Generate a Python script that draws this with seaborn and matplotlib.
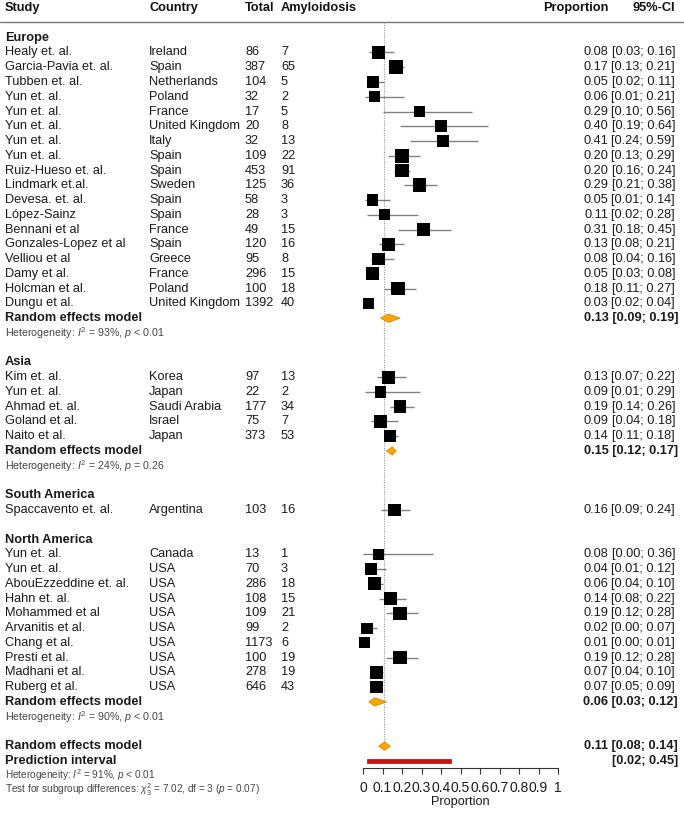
import matplotlib
matplotlib.use("Agg")
import matplotlib.pyplot as plt
import matplotlib.transforms as mtransforms
import numpy as np
import pandas as pd
import seaborn as sns

sns.set_style("white")
plt.rcParams["font.family"] = ["Liberation Sans", "DejaVu Sans"]
plt.rcParams["mathtext.fontset"] = "custom"
plt.rcParams["mathtext.rm"] = "Liberation Sans"
plt.rcParams["mathtext.it"] = "Liberation Sans:italic"

# ---- data ----
regions = ["Europe"] * 18 + ["Asia"] * 5 + ["South America"] + ["North America"] * 10
studies = ["Healy et. al.", "Garcia-Pavia et. al.", "Tubben et. al.", "Yun et. al.", "Yun et. al.",
           "Yun et. al.", "Yun et. al.", "Yun et. al.", "Ruiz-Hueso et. al.", "Lindmark et.al.",
           "Devesa. et. al.", "López-Sainz", "Bennani et al", "Gonzales-Lopez et al", "Velliou et al",
           "Damy et al.", "Holcman et al.", "Dungu et al.",
           "Kim et. al.", "Yun et. al.", "Ahmad et. al.", "Goland et al.", "Naito et al.",
           "Spaccavento et. al.",
           "Yun et. al.", "Yun et. al.", "AbouEzzeddine et. al.", "Hahn et. al.", "Mohammed et al",
           "Arvanitis et al.", "Chang et al.", "Presti et al.", "Madhani et al.", "Ruberg et al."]
countries = ["Ireland", "Spain", "Netherlands", "Poland", "France", "United Kingdom", "Italy", "Spain",
             "Spain", "Sweden", "Spain", "Spain", "France", "Spain", "Greece", "France", "Poland",
             "United Kingdom",
             "Korea", "Japan", "Saudi Arabia", "Israel", "Japan",
             "Argentina",
             "Canada", "USA", "USA", "USA", "USA", "USA", "USA", "USA", "USA", "USA"]
totals = [86, 387, 104, 32, 17, 20, 32, 109, 453, 125, 58, 28, 49, 120, 95, 296, 100, 1392,
          97, 22, 177, 75, 373,
          103,
          13, 70, 286, 108, 109, 99, 1173, 100, 278, 646]
events = [7, 65, 5, 2, 5, 8, 13, 22, 91, 36, 3, 3, 15, 16, 8, 15, 18, 40,
          13, 2, 34, 7, 53,
          16,
          1, 3, 18, 15, 21, 2, 6, 19, 19, 43]
props = [0.08, 0.17, 0.05, 0.06, 0.29, 0.40, 0.41, 0.20, 0.20, 0.29, 0.05, 0.11, 0.31, 0.13, 0.08,
         0.05, 0.18, 0.03,
         0.13, 0.09, 0.19, 0.09, 0.14,
         0.16,
         0.08, 0.04, 0.06, 0.14, 0.19, 0.02, 0.01, 0.19, 0.07, 0.07]
ci_lo = [0.03, 0.13, 0.02, 0.01, 0.10, 0.19, 0.24, 0.13, 0.16, 0.21, 0.01, 0.02, 0.18, 0.08, 0.04,
         0.03, 0.11, 0.02,
         0.07, 0.01, 0.14, 0.04, 0.11,
         0.09,
         0.00, 0.01, 0.04, 0.08, 0.12, 0.00, 0.00, 0.12, 0.04, 0.05]
ci_hi = [0.16, 0.21, 0.11, 0.21, 0.56, 0.64, 0.59, 0.29, 0.24, 0.38, 0.14, 0.28, 0.45, 0.21, 0.16,
         0.08, 0.27, 0.04,
         0.22, 0.29, 0.26, 0.18, 0.18,
         0.24,
         0.36, 0.12, 0.10, 0.22, 0.28, 0.07, 0.01, 0.28, 0.10, 0.09]
weights = [5.4, 6.0, 5.2, 5.0, 5.0, 5.2, 5.4, 5.8, 5.9, 5.9, 5.0, 5.0, 5.6, 5.8, 5.4, 5.6, 5.8, 4.9,
           5.6, 5.0, 5.6, 5.4, 5.4,
           5.6,
           5.0, 5.2, 5.6, 5.6, 5.8, 5.0, 4.9, 5.8, 5.6, 5.4]

pooled_regions = ["Europe", "Asia", "North America"]
pooled_est = [0.13, 0.15, 0.06]
pooled_lo = [0.09, 0.12, 0.03]
pooled_hi = [0.19, 0.17, 0.12]
pooled_het = [r"Heterogeneity: $I^2$ = 93%, $p$ < 0.01",
              r"Heterogeneity: $I^2$ = 24%, $p$ = 0.26",
              r"Heterogeneity: $I^2$ = 90%, $p$ < 0.01"]
overall = [0.11, 0.08, 0.14]
pred_int = [0.02, 0.45]
overall_het = r"Heterogeneity: $I^2$ = 91%, $p$ < 0.01"
subgroup_test = r"Test for subgroup differences: $\chi^2_3$ = 7.02, df = 3 ($p$ = 0.07)"
tick_vals = [0, 0.1, 0.2, 0.3, 0.4, 0.5, 0.6, 0.7, 0.8, 0.9, 1]
tick_labels = ["0", "0.1", "0.2", "0.3", "0.4", "0.5", "0.6", "0.7", "0.8", "0.9", "1"]

df = pd.DataFrame({"region": regions, "study": studies, "country": countries, "total": totals,
                   "events": events, "prop": props, "lo": ci_lo, "hi": ci_hi, "weight": weights})

# ---- row layout ----
row = 2
df["row"] = 0
group_rows = {}
pooled_rows = {}
for reg in ["Europe", "Asia", "South America", "North America"]:
    group_rows[reg] = row
    row += 1
    idx = df.index[df["region"] == reg]
    df.loc[idx, "row"] = np.arange(row, row + len(idx))
    row += len(idx)
    if reg in pooled_regions:
        pooled_rows[reg] = row
        row += 3
    else:
        row += 1
overall_row = row
pred_row = row + 1

W, H = 684, 816
fig = plt.figure(figsize=(W / 100, H / 100), dpi=100)
y0, rh = 8.2, 14.76
ax_bottom_px = 768
ax = fig.add_axes([363 / W, 1 - ax_bottom_px / H, 195 / W, ax_bottom_px / H])
ax.set_xlim(0, 1)
ax.set_ylim((ax_bottom_px - y0) / rh, (0 - y0) / rh)

trans = mtransforms.blended_transform_factory(fig.transFigure, ax.transData)
txt = "#1a1a1a"
fs = 9.2
fs_small = 7.7


def put(xpx, k, s, ha="left", weight="normal", size=fs, color=txt):
    ax.text(xpx / W, k, s, transform=trans, ha=ha, va="center", fontsize=size,
            fontweight=weight, color=color, clip_on=False)


# header
for xpx, s, ha in [(5, "Study", "left"), (149, "Country", "left"), (245, "Total", "left"),
                   (281, "Amyloidosis", "left"), (608, "Proportion", "right"), (675, "95%-CI", "right")]:
    put(xpx, 0, s, ha=ha, weight="bold", color="#111111")
ax.plot([0, 1], [0.95, 0.95], transform=trans, color="#777777", lw=1.0, clip_on=False)

# reference line at overall estimate
ax.vlines(overall[0], 0.95, overall_row, colors="#999999", linestyles=(0, (1, 1.2)), lw=0.8)

# CI lines and squares
ax.hlines(df["row"], df["lo"], df["hi"], colors="#808080", lw=1.0, clip_on=False)
sns.scatterplot(data=df, x="prop", y="row", size="weight", sizes=(62, 100), size_norm=(4.9, 6.0),
                marker="s", color="black", linewidth=0, legend=False, ax=ax, clip_on=False, zorder=3)

for reg in ["Europe", "Asia", "South America", "North America"]:
    put(5, group_rows[reg], reg, weight="bold")
for _, r in df.iterrows():
    put(5, r["row"], r["study"])
    put(149, r["row"], r["country"])
    put(245, r["row"], str(r["total"]))
    put(281, r["row"], str(r["events"]))
    put(608, r["row"], f"{r['prop']:.2f}", ha="right")
    put(675, r["row"], f"[{r['lo']:.2f}; {r['hi']:.2f}]", ha="right")


def diamond(est, lo, hi, k, h=0.28):
    ax.fill([lo, est, hi, est], [k, k - h, k, k + h], facecolor="#FFA500",
            edgecolor="#D88A00", lw=0.6, clip_on=False, zorder=4)


for reg, est, lo, hi, het in zip(pooled_regions, pooled_est, pooled_lo, pooled_hi, pooled_het):
    k = pooled_rows[reg]
    diamond(est, lo, hi, k)
    put(5, k, "Random effects model", weight="bold")
    put(678, k, f"{est:.2f} [{lo:.2f}; {hi:.2f}]", ha="right", weight="bold")
    put(5, k + 1, het, size=fs_small, color="#444444")

diamond(overall[0], overall[1], overall[2], overall_row)
put(5, overall_row, "Random effects model", weight="bold")
put(678, overall_row, f"{overall[0]:.2f} [{overall[1]:.2f}; {overall[2]:.2f}]", ha="right", weight="bold")

ax.fill([pred_int[0], pred_int[1], pred_int[1], pred_int[0]],
        [pred_row - 0.12, pred_row - 0.12, pred_row + 0.12, pred_row + 0.12],
        facecolor="#CC1010", edgecolor="#991010", lw=0.5, clip_on=False)
put(5, pred_row, "Prediction interval", weight="bold")
put(678, pred_row, f"[{pred_int[0]:.2f}; {pred_int[1]:.2f}]", ha="right", weight="bold")

put(5, pred_row + 0.95, overall_het, size=7.2, color="#444444")
put(5, pred_row + 1.95, subgroup_test, size=7.2, color="#444444")

# axis
for sp in ["left", "right", "top"]:
    ax.spines[sp].set_visible(False)
ax.spines["bottom"].set_bounds(0, 1)
ax.spines["bottom"].set_color("#333333")
ax.spines["bottom"].set_linewidth(0.8)
ax.set_yticks([])
ax.set_xticks(tick_vals)
ax.set_xticklabels(tick_labels)
ax.tick_params(axis="x", direction="out", length=4, width=0.8, color="#333333",
               labelsize=10, labelcolor=txt, pad=5, bottom=True)
ax.set_xlabel("Proportion", fontsize=fs, color=txt, labelpad=1)
ax.set_ylabel("")
ax.grid(False)

fig.savefig("out.png", dpi=100)
